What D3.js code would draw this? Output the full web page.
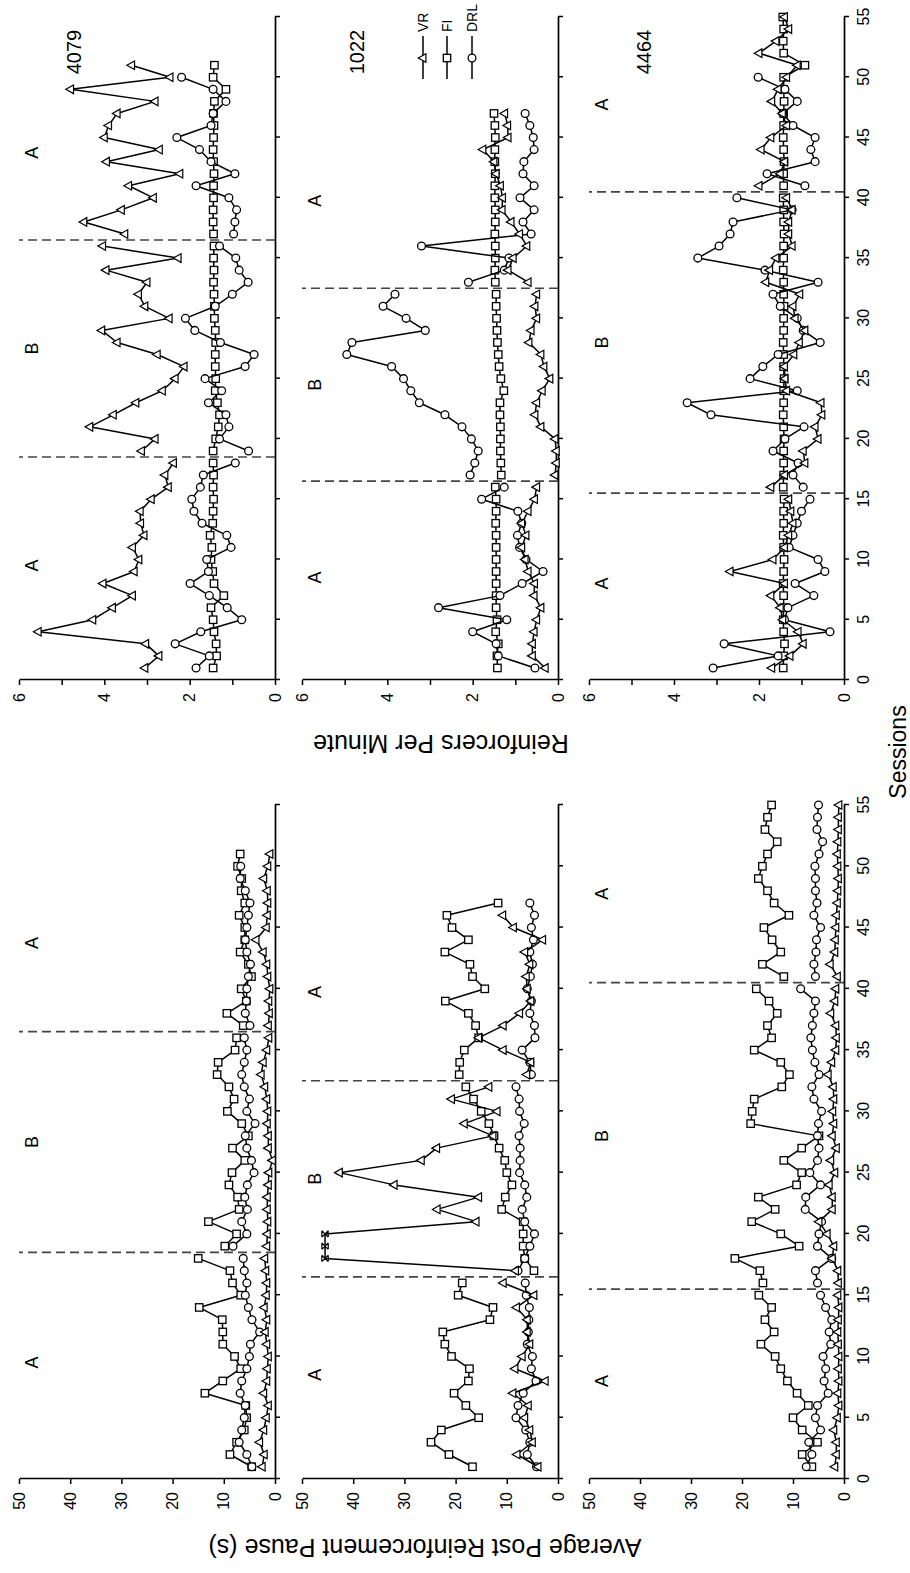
<!DOCTYPE html>
<html>
<head>
<meta charset="utf-8">
<script src="https://cdn.jsdelivr.net/npm/d3@7"></script>
<style>
  body { margin: 0; background: #fff; }
  svg { display: block; }
  text { font-family: "Liberation Sans", Arial, sans-serif; fill: #000; }
</style>
</head>
<body>
<svg id="svg" width="910" height="1573"></svg>
<script>
// ---- data (sessions start at 1) ----
const rats = ["4079", "1022", "4464"];
const phaseNames = ["A", "B", "A"];
const phaseBreaks = [[18.5, 36.5], [16.5, 32.5], [15.5, 40.5]];
const lastSessions = [51, 47, 55];
const sessionTicks = [0, 5, 10, 15, 20, 25, 30, 35, 40, 45, 50, 55];
const prpTicks = [0, 10, 20, 30, 40, 50];
const rpmTicks = [0, 1, 2, 3, 4, 5, 6];
const rpmTickLabels = ["0", "", "2", "", "4", "", "6"];
const legendNames = ["VR", "FI", "DRL"];

// reinforcers per minute
const rpm4079VR = [3.05,2.72,3.03,5.55,4.27,3.81,3.34,4.03,3.30,3.19,3.34,3.07,3.15,3.16,2.90,2.50,2.58,2.38,
  3.13,2.81,4.34,3.79,3.26,2.64,2.34,2.13,2.76,3.70,4.06,2.48,3.05,3.20,3.00,3.96,2.27,4.04,
  3.52,4.48,3.60,2.85,3.43,2.23,3.95,2.71,4.00,3.90,3.70,2.81,4.79,2.46,3.36];
const rpm4079FI = [1.45,1.37,1.38,1.43,1.45,1.50,1.20,1.43,1.46,1.50,1.48,1.52,1.46,1.45,1.44,1.45,1.44,1.45,
  1.45,1.39,1.33,1.30,1.35,1.40,1.39,1.40,1.40,1.39,1.40,1.42,1.42,1.43,1.44,1.43,1.44,1.43,
  1.44,1.45,1.45,1.44,1.44,1.43,1.44,1.45,1.44,1.43,1.44,1.42,1.15,1.45,1.42];
const rpm4079DRL = [1.85,1.54,2.34,1.74,0.78,1.12,1.54,1.99,1.56,1.60,1.03,1.13,1.71,1.90,1.95,1.75,1.68,0.93,
  0.62,1.30,1.08,1.15,1.56,1.25,1.64,0.70,0.49,1.28,1.88,2.10,1.40,1.00,0.63,0.84,0.92,1.30,
  0.97,0.94,0.90,1.08,1.85,0.94,1.50,1.77,2.30,1.50,1.45,1.15,1.45,2.19];

const rpm1022VR = [0.30,0.60,0.60,0.56,0.50,0.40,0.56,0.55,0.70,0.77,0.85,0.75,0.85,0.70,0.55,0.50,
  0.07,0.04,0.04,0.07,0.40,0.54,0.50,0.37,0.19,0.33,0.40,0.68,0.63,0.50,0.54,0.50,
  0.70,1.17,1.05,0.73,0.90,1.10,1.31,1.30,1.35,1.45,1.50,1.76,1.17,1.18,1.25];
const rpm1022FI = [1.42,1.43,1.40,1.46,1.43,1.45,1.45,1.45,1.45,1.45,1.45,1.45,1.46,1.45,1.45,1.47,
  1.33,1.34,1.35,1.35,1.35,1.36,1.36,1.27,1.34,1.38,1.40,1.42,1.43,1.44,1.45,1.45,
  1.47,1.48,1.47,1.47,1.48,1.47,1.47,1.48,1.48,1.47,1.48,1.48,1.47,1.48,1.50];
const rpm1022DRL = [0.54,1.40,1.45,2.00,1.20,2.80,1.36,0.84,0.35,0.75,0.90,0.95,0.85,0.94,1.79,1.26,
  2.06,1.95,1.87,2.03,2.25,2.65,3.25,3.45,3.62,3.90,4.95,4.83,3.11,3.56,4.10,3.82,
  2.10,1.26,1.15,3.20,0.63,0.82,0.56,0.89,0.56,0.82,0.80,0.56,0.58,0.66,0.77];

const rpm4464VR = [1.70,1.27,0.96,1.08,1.44,1.50,1.72,1.40,2.68,1.67,1.40,1.30,1.20,1.25,1.30,
  1.72,1.40,0.92,0.96,0.61,0.68,0.52,0.54,1.35,1.39,1.40,1.18,1.05,0.92,1.15,1.20,1.04,1.84,1.75,1.60,1.22,1.30,1.30,1.22,1.35,
  2.00,1.50,1.40,1.95,1.72,1.35,1.45,1.70,1.55,1.35,1.10,2.00,1.60,1.30,1.40];
const rpm4464FI = [1.43,1.42,1.40,1.42,1.43,1.42,1.42,1.43,1.42,1.41,1.42,1.43,1.42,1.42,1.41,
  1.43,1.42,1.42,1.42,1.41,1.42,1.43,1.42,1.42,1.41,1.42,1.42,1.43,1.42,1.42,1.41,1.42,1.42,1.43,1.42,1.42,1.41,1.42,1.42,1.43,
  1.42,1.42,1.41,1.42,1.43,1.42,1.42,1.41,1.42,1.42,0.92,1.42,1.43,1.42,1.44];
const rpm4464DRL = [3.08,1.55,2.82,0.33,1.40,1.32,0.71,1.15,0.45,0.61,1.29,1.20,1.10,1.00,0.80,
  0.96,1.20,1.08,1.67,1.39,0.94,3.13,3.69,1.10,2.21,1.91,1.55,0.56,0.96,1.10,1.50,1.67,0.61,1.86,3.44,2.94,2.68,2.61,1.22,2.52,
  0.92,1.81,0.68,0.78,0.68,1.20,1.44,1.10,1.39,2.02];

// average post reinforcement pause (s)
const prp4079VR = [2.5,2.1,3.0,2.2,1.7,1.3,2.2,1.6,1.5,1.3,1.6,1.9,1.6,2.1,1.7,1.6,1.8,2.0,
  1.6,1.5,1.4,1.5,1.5,1.3,1.2,0.5,1.3,1.3,1.5,1.4,1.6,2.0,2.7,2.3,1.6,1.2,
  1.3,1.1,1.2,1.0,1.4,1.6,2.3,3.7,1.7,1.5,1.4,1.5,2.2,1.4,1.0];
const prp4079FI = [4.55,8.8,7.5,6.0,5.55,5.7,13.7,10.2,6.7,7.9,10.2,10.2,10.3,14.8,6.7,8.3,8.8,15.0,
  9.8,7.5,13.0,7.0,7.3,9.0,8.4,5.9,8.3,5.2,6.5,9.3,8.0,9.0,11.3,11.1,7.8,7.5,
  6.2,9.4,5.6,6.6,4.6,5.2,6.8,5.9,5.9,7.0,5.9,6.6,6.5,7.3,6.8];
const prp4079DRL = [4.5,5.5,7.0,6.5,6.0,5.8,6.8,6.5,5.5,5.0,4.8,3.0,4.5,5.2,5.8,5.5,6.0,6.2,
  8.2,5.5,6.5,5.4,5.9,5.4,4.1,4.6,5.5,5.8,3.9,5.5,5.0,6.0,6.5,6.0,5.5,6.0,
  4.9,5.8,5.6,5.5,5.2,4.8,5.5,5.8,5.5,5.2,4.9,5.8,6.8,6.7];

const prp1022VR = [3.9,8.0,5.0,5.5,6.5,5.8,8.8,2.5,8.4,7.0,5.5,6.0,6.0,8.1,4.7,10.7,
  8.3,45.5,45.5,45.5,16.0,23.6,15.5,32.0,42.7,26.7,23.7,12.7,18.3,11.9,20.8,13.5,
  6.1,5.3,10.7,15.5,10.7,7.5,5.3,6.0,6.2,5.5,6.5,3.0,8.7,10.8];
const prp1022FI = [16.7,21.3,24.8,22.8,15.5,18.0,20.3,17.5,17.3,20.8,22.1,22.5,13.3,12.7,19.5,18.7,
  4.7,6.5,6.8,6.8,6.8,11.0,10.3,9.0,10.0,10.4,11.5,12.5,13.5,15.0,16.5,18.0,
  19.3,19.2,18.3,15.5,16.1,17.5,22.0,14.3,16.7,17.2,22.1,17.5,20.7,21.7,11.7];
const prp1022DRL = [4.2,6.0,5.5,6.3,8.2,7.8,6.8,4.3,5.2,5.0,6.0,5.8,5.7,5.6,6.2,6.4,
  7.8,6.5,5.5,4.6,6.5,7.0,6.1,6.5,7.5,7.4,7.4,7.6,6.6,7.5,7.6,8.2,
  5.2,5.5,7.0,4.5,4.6,5.5,5.2,6.0,5.4,5.0,5.5,4.8,5.2,4.6,5.5];
const prp1022Capped = [18, 19, 20];

const prp4464VR = [1.8,1.5,1.5,2.0,1.3,1.0,1.2,1.0,1.1,1.0,1.1,1.2,1.1,1.0,1.2,
  1.1,1.2,2.3,2.0,3.3,4.9,2.3,2.3,2.9,1.8,2.6,1.5,2.3,2.0,2.2,2.0,2.1,3.1,2.4,1.6,1.5,1.6,2.6,1.8,1.6,
  1.3,2.7,1.8,1.7,1.6,1.5,1.3,1.2,1.1,1.2,1.3,1.2,1.1,1.1,1.0];
const prp4464FI = [6.3,8.2,5.2,8.2,10.0,7.0,9.2,11.1,12.4,13.5,16.3,13.7,15.5,14.2,16.7,
  15.9,16.5,21.4,8.8,12.4,18.1,13.5,16.8,9.3,8.3,11.8,8.3,4.9,18.3,18.0,17.6,12.2,10.7,12.4,17.6,14.2,15.0,13.1,14.7,17.2,
  11.8,16.0,12.4,14.1,15.7,10.8,13.7,15.0,16.8,16.0,15.0,13.1,15.5,15.0,14.2];
const prp4464DRL = [7.4,6.3,6.9,4.6,5.6,5.2,3.1,3.9,3.6,4.1,2.6,2.9,2.4,3.6,4.6,
  5.2,5.6,2.4,5.2,4.9,4.4,7.6,7.5,4.6,6.7,5.2,4.9,5.2,5.0,4.4,5.9,6.3,4.9,5.7,6.2,6.5,6.2,5.9,5.6,8.5,
  5.6,5.9,5.5,5.4,4.6,5.9,5.3,5.6,5.6,5.7,4.9,4.2,5.3,5.2,5.0];

// table built from the arrays: [row][column]
const panelData = [
  [{ VR: prp4079VR, FI: prp4079FI, DRL: prp4079DRL }, { VR: rpm4079VR, FI: rpm4079FI, DRL: rpm4079DRL }],
  [{ VR: prp1022VR, FI: prp1022FI, DRL: prp1022DRL, capped: prp1022Capped }, { VR: rpm1022VR, FI: rpm1022FI, DRL: rpm1022DRL }],
  [{ VR: prp4464VR, FI: prp4464FI, DRL: prp4464DRL }, { VR: rpm4464VR, FI: rpm4464FI, DRL: rpm4464DRL }]
];

// ---- layout (figure drawn unrotated, 1573 x 910, then turned 90deg counter-clockwise) ----
const rows = [[19, 275], [302, 558], [589, 844]];
const cols = [
  { range: [94, 768], max: 50, ticks: prpTicks, fmt: d => d },
  { range: [893, 1556], max: 6, ticks: rpmTicks, fmt: (d, i) => rpmTickLabels[i] }
];

const svg = d3.select("#svg");
const fig = svg.append("g").attr("transform", "translate(0,1573) rotate(-90)");

const symTri = "M0,-4.8L4.3,2.9L-4.3,2.9Z";
const symX = "M-3.2,-3.2L3.2,3.2M-3.2,3.2L3.2,-3.2M-3.2,-3.2L3.2,-3.2M-3.2,3.2L3.2,3.2";

function drawMarker(g, kind, x, y) {
  if (kind === "DRL") {
    g.append("circle").attr("cx", x).attr("cy", y).attr("r", 3.9)
      .attr("fill", "#fff").attr("stroke", "#000").attr("stroke-width", 1.3);
  } else if (kind === "FI") {
    g.append("rect").attr("x", x - 3.7).attr("y", y - 3.7).attr("width", 7.4).attr("height", 7.4)
      .attr("fill", "#fff").attr("stroke", "#000").attr("stroke-width", 1.3);
  } else if (kind === "VR") {
    g.append("path").attr("d", symTri).attr("transform", `translate(${x},${y})`)
      .attr("fill", "#fff").attr("stroke", "#000").attr("stroke-width", 1.2);
  } else {
    g.append("path").attr("d", symX).attr("transform", `translate(${x},${y})`)
      .attr("fill", "none").attr("stroke", "#000").attr("stroke-width", 1.2);
  }
}

rows.forEach((rowExt, r) => {
  const [b1, b2] = phaseBreaks[r];
  const phaseOf = s => (s < b1 ? 0 : s < b2 ? 1 : 2);

  cols.forEach((col, c) => {
    const x = d3.scaleLinear().domain([0, 55]).range(col.range);
    const y = d3.scaleLinear().domain([0, col.max]).range([rowExt[1], rowExt[0]]);
    const g = fig.append("g");

    // dashed phase-change lines
    [b1, b2].forEach(b => {
      g.append("line")
        .attr("x1", x(b)).attr("x2", x(b))
        .attr("y1", y(0)).attr("y2", y(col.max))
        .attr("stroke", "#444").attr("stroke-width", 1.7)
        .attr("stroke-dasharray", "9,5");
    });

    // axes
    const yAxis = d3.axisLeft(y).tickValues(col.ticks).tickSize(5).tickSizeOuter(0)
      .tickPadding(8).tickFormat(col.fmt);
    const xAxis = d3.axisBottom(x).tickValues(sessionTicks).tickSize(5).tickSizeOuter(0)
      .tickPadding(9).tickFormat(r === 2 ? d3.format("d") : () => "");
    const ya = g.append("g").attr("transform", `translate(${x(0)},0)`).call(yAxis);
    const xa = g.append("g").attr("transform", `translate(0,${y(0)})`).call(xAxis);
    [ya, xa].forEach(a => {
      a.select(".domain").attr("stroke", "#000").attr("stroke-width", 1.7);
      a.selectAll(".tick line").attr("stroke", "#000").attr("stroke-width", 1.5);
      a.selectAll(".tick text").attr("font-size", 16)
        .attr("font-family", "'Liberation Sans', Arial, sans-serif").attr("fill", "#000");
    });

    // phase labels
    const centers = [(0.5 + b1) / 2, (b1 + b2) / 2, (b2 + lastSessions[r]) / 2];
    centers.forEach((m, i) => {
      g.append("text").attr("x", x(m)).attr("y", rowExt[0] + 19)
        .attr("text-anchor", "middle").attr("font-size", 18).text(phaseNames[i]);
    });

    // series
    const data = panelData[r][c];
    const capped = data.capped || [];
    ["FI", "DRL", "VR"].forEach(kind => {
      const pts = data[kind].map((v, i) => ({ s: i + 1, v }));
      const line = d3.line().x(d => x(d.s)).y(d => y(d.v));
      [0, 1, 2].forEach(p => {
        const seg = pts.filter(d => phaseOf(d.s) === p);
        if (seg.length > 1) {
          g.append("path").datum(seg).attr("d", line)
            .attr("fill", "none").attr("stroke", "#000").attr("stroke-width", 1.5)
            .attr("stroke-linejoin", "round");
        }
      });
      pts.forEach(d => {
        const k = kind === "VR" && capped.includes(d.s) ? "X" : kind;
        drawMarker(g, k, x(d.s), y(d.v));
      });
    });

    // rat number, top-right of the rate panels
    if (c === 1) {
      g.append("text").attr("x", 1521).attr("y", rowExt[0] + 62)
        .attr("text-anchor", "middle").attr("font-size", 20).text(rats[r]);
    }
  });
});

// legend (second rate panel)
const legY = [423, 447, 472];
legendNames.forEach((name, i) => {
  const lg = fig.append("g");
  lg.append("line").attr("x1", 1494).attr("x2", 1537).attr("y1", legY[i]).attr("y2", legY[i])
    .attr("stroke", "#000").attr("stroke-width", 1.5);
  drawMarker(lg, name, 1515, legY[i]);
  lg.append("text").attr("x", 1541).attr("y", legY[i]).attr("dy", "0.36em")
    .attr("font-size", 14).text(name);
});

// axis titles
fig.append("text").attr("transform", "translate(34,425) rotate(-90)")
  .attr("text-anchor", "middle").attr("font-size", 25).text("Average Post Reinforcement Pause (s)");
fig.append("text").attr("transform", "translate(838,441) rotate(-90)")
  .attr("text-anchor", "middle").attr("font-size", 25).text("Reinforcers Per Minute");
fig.append("text").attr("x", 821).attr("y", 906)
  .attr("text-anchor", "middle").attr("font-size", 23).text("Sessions");
</script>
</body>
</html>
